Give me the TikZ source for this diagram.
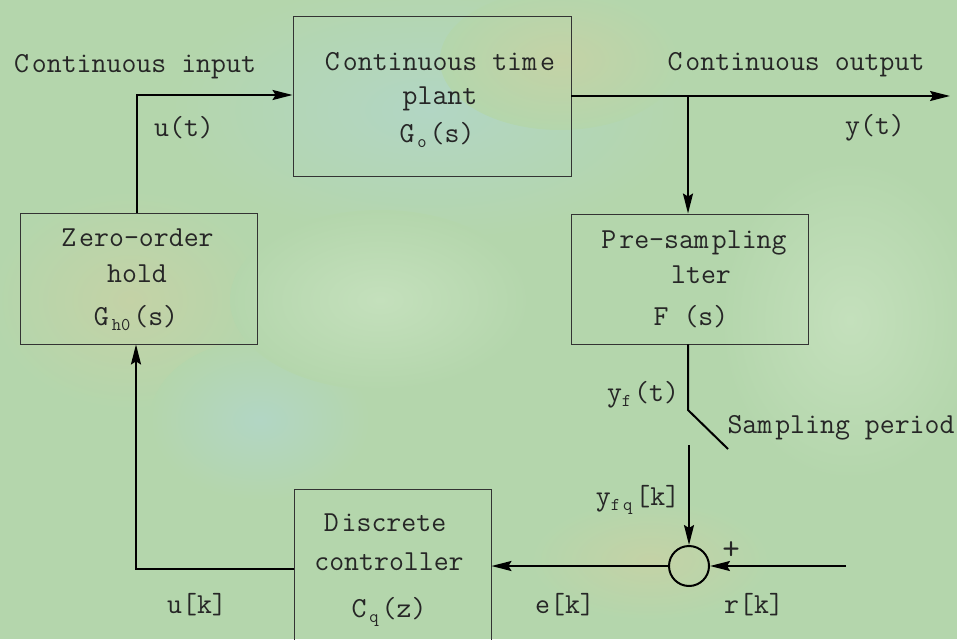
\documentclass[tikz,border=0pt]{standalone}
\usepackage{fontspec}
\usetikzlibrary{arrows.meta}
\definecolor{bgbase}{RGB}{180,214,172}
\definecolor{bgcyan}{RGB}{178,214,196}
\definecolor{bgtan}{RGB}{196,210,166}
\definecolor{bglight}{RGB}{196,224,188}
\newcommand\sbx[1]{\raisebox{-0.4ex}{\fontsize{18}{18}\selectfont #1}}
\newcommand\gp{\kern3pt}
\begin{document}
\begin{tikzpicture}[x=1pt,y=-1pt,
  txt/.style={font=\fontsize{29}{32}\ttfamily, inner sep=0pt, text=black!85},
  blockbox/.style={draw=black!80, line width=0.9pt, inner sep=0pt},
  conn/.style={line width=2pt, draw=black},
  arr/.style={conn, -{Stealth[length=20pt,width=10pt,inset=3pt]}}]
\useasboundingbox (0,0) rectangle (957,639);
\clip (0,0) rectangle (957,639);
% background
\fill[bgbase] (0,0) rectangle (957,639);
\shade[inner color=bgcyan, outer color=bgbase] (430,110) ellipse (260 and 130);
\shade[inner color=bgtan, outer color=bgbase] (130,300) ellipse (140 and 110);
\shade[inner color=bgtan, outer color=bgbase] (560,60) ellipse (120 and 70);
\shade[inner color=bglight, outer color=bgbase] (850,320) ellipse (130 and 160);
\shade[inner color=bgcyan, outer color=bgbase] (260,420) ellipse (110 and 80);
\shade[inner color=bglight, outer color=bgbase] (380,300) ellipse (150 and 90);
\shade[inner color=bgtan, outer color=bgbase] (650,560) ellipse (120 and 60);

% blocks
\node[blockbox, minimum width=278pt, minimum height=160pt] (plant) at (432,96) {};
\node[blockbox, minimum width=237pt, minimum height=131pt] (zoh) at (138.5,278.5) {};
\node[blockbox, minimum width=237pt, minimum height=130pt] (filt) at (689.5,279) {};
\node[blockbox, minimum width=197pt, minimum height=200pt] (ctrl) at (392.5,589) {};
\node[draw, line width=2pt, circle, minimum size=40pt, inner sep=0pt] (sum) at (689,566) {};

% block texts
\node[txt] (pl1) at (440,62) {C\gp ontinuous tim\gp e};
\node[txt] (pl2) at (440,99) {plant};
\node[txt] (pl3) at (437,135) {G\gp\sbx{o}\gp(s)};
\node[txt] (zh1) at (137.5,238) {Z\gp ero-order};
\node[txt] (zh2) at (137,274) {hold};
\node[txt] (zh3) at (136,318) {G\gp\sbx{h0}\gp(s)};
\node[txt] (fl1) at (694,243) {P\gp re-sam\gp pling};
\node[txt] (fl2) at (701,275) {lter};
\node[txt] (fl3) at (691,317) {F (s)};
\node[txt] (ct1) at (385,523) {D\gp iscrete};
\node[txt] (ct2) at (389,562) {controller};
\node[txt] (ct3) at (389,612) {C\gp\sbx{q}\gp(z)};

% signal labels
\node[txt] (lin) at (135,67) {C\gp ontinuous input};
\node[txt] (lut) at (184,128) {u(t)};
\node[txt] (lout) at (796,65) {C\gp ontinuous output};
\node[txt] (lyt) at (875,128) {y(t)};
\node[txt] (lyf) at (643,395) {y\sbx{f}\gp (t)};
\node[txt] (lsp) at (841,428) {Sam\gp pling period};
\node[txt] (lyfq) at (638,500) {y\sbx{f\,q}\gp[k]};
\node[txt] (luk) at (197,605) {u[k]};
\node[txt] (lek) at (565,605) {e[k]};
\node[txt] (lrk) at (754,605) {r[k]};
\node[txt, font=\fontsize{34}{36}\ttfamily] (lplus) at (731,551) {+};

% helper coordinates
\coordinate (inCorner) at (137,95);
\coordinate (branch) at (688,96);
\coordinate (outEnd) at (950,96);
\coordinate (swTop) at (688,410);
\coordinate (swEnd) at (728,449);
\coordinate (sampStart) at (689,445);
\coordinate (rStart) at (846,566);
\coordinate (ukCorner) at (136,569);

% connectors
\draw[arr] (zoh.north -| inCorner) -- (inCorner) -- (plant.west |- inCorner);
\draw[arr] (plant.east |- branch) -- (outEnd);
\draw[arr] (branch) -- (filt.north -| branch);
\draw[conn] (filt.south -| swTop) -- (swTop) -- (swEnd);
\draw[arr] (sampStart) -- (sum.north);
\draw[arr] (rStart) -- (sum.east);
\draw[arr] (sum.west) -- (ctrl.east |- sum.west);
\draw[arr] (ctrl.west |- ukCorner) -- (ukCorner) -- (zoh.south -| ukCorner);
\end{tikzpicture}
\end{document}
